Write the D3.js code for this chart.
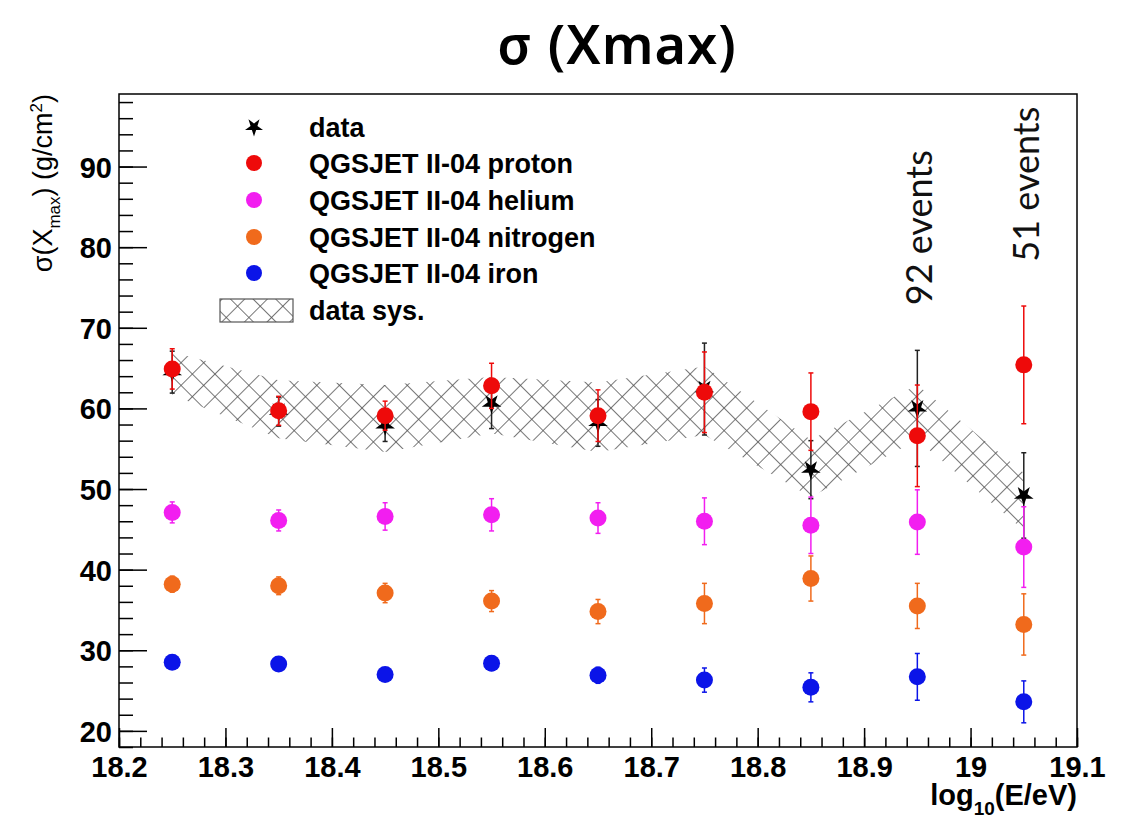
<!DOCTYPE html>
<html>
<head>
<meta charset="utf-8">
<script src="https://cdn.jsdelivr.net/npm/d3@7"></script>
<style>
  html, body { margin: 0; padding: 0; background: #fff; }
  svg { display: block; }
</style>
</head>
<body>
<div id="chart"></div>
<script>
// Energy bins, log10(E/eV)
const energy = [18.25, 18.35, 18.45, 18.55, 18.65, 18.75, 18.85, 18.95, 19.05];

// Measured sigma(Xmax) and statistical errors (g/cm^2)
const dataVal = [64.5, 59.6, 57.9, 60.6, 58.2, 62.4, 52.4, 60.0, 49.2];
const dataErr = [2.6, 1.8, 2.0, 3.1, 2.9, 5.7, 3.6, 7.2, 5.3];

// Systematic band edges around the data
const sysHigh = [67.0, 63.5, 62.9, 63.9, 63.2, 65.2, 56.1, 62.9, 52.0];
const sysLow  = [61.7, 56.3, 54.6, 56.9, 54.6, 56.7, 49.0, 56.1, 44.9];

// QGSJET II-04 simulated compositions
const protonVal   = [64.9, 59.7, 59.1, 62.8, 59.1, 62.0, 59.6, 56.6, 65.4];
const protonErr   = [2.5, 1.8, 1.8, 2.8, 3.2, 5.0, 4.8, 6.3, 7.3];
const heliumVal   = [47.1, 46.1, 46.6, 46.8, 46.4, 46.0, 45.5, 45.9, 42.8];
const heliumErr   = [1.3, 1.3, 1.7, 2.0, 1.9, 2.9, 3.5, 4.0, 5.0];
const nitrogenVal = [38.2, 38.0, 37.1, 36.1, 34.8, 35.8, 38.9, 35.5, 33.2];
const nitrogenErr = [1.0, 1.1, 1.2, 1.3, 1.5, 2.5, 2.8, 2.8, 3.8];
const ironVal     = [28.5, 28.3, 27.0, 28.4, 26.9, 26.3, 25.4, 26.7, 23.6];
const ironErr     = [0.6, 0.6, 0.6, 0.9, 1.0, 1.5, 1.8, 2.9, 2.6];

// Axis ticks
const xMajorTicks = [18.2, 18.3, 18.4, 18.5, 18.6, 18.7, 18.8, 18.9, 19.0, 19.1];
const yMajorTicks = [20, 30, 40, 50, 60, 70, 80, 90];

// Event-count annotations
const eventLabels = [
  { e: 18.95, v: 72.8, text: "92 events" },
  { e: 19.05, v: 78.2, text: "51 events" }
];

const legendLabels = ["data", "QGSJET II-04 proton", "QGSJET II-04 helium",
                      "QGSJET II-04 nitrogen", "QGSJET II-04 iron", "data sys."];

const W = 1126, H = 821;
const frame = { left: 119, right: 1077, top: 94, bottom: 747 };

const svg = d3.select("#chart").append("svg")
  .attr("width", W).attr("height", H);

const x = d3.scaleLinear().domain([18.2, 19.1]).range([frame.left, frame.right]);
const y = d3.scaleLinear().domain([18, 99]).range([frame.bottom, frame.top]);

// Cross-hatch pattern for the systematic band
const defs = svg.append("defs");
const pat = defs.append("pattern")
  .attr("id", "xhatch")
  .attr("patternUnits", "userSpaceOnUse")
  .attr("width", 16).attr("height", 16)
  .attr("patternTransform", "rotate(45)");
pat.append("line").attr("x1", 0).attr("y1", 0).attr("x2", 0).attr("y2", 16)
  .attr("stroke", "#555").attr("stroke-width", 1.6);
pat.append("line").attr("x1", 0).attr("y1", 0).attr("x2", 16).attr("y2", 0)
  .attr("stroke", "#555").attr("stroke-width", 1.6);

// Title
svg.append("text")
  .attr("x", 617).attr("y", 64)
  .attr("text-anchor", "middle")
  .attr("font-family", "'Noto Sans', sans-serif")
  .attr("font-weight", 600)
  .attr("font-size", 54)
  .attr("letter-spacing", 1)
  .text("σ (Xmax)");

// Systematic band
const band = energy.map((e, i) => ({ e, hi: sysHigh[i], lo: sysLow[i] }));
svg.append("path")
  .datum(band)
  .attr("fill", "url(#xhatch)")
  .attr("stroke", "none")
  .attr("d", d3.area().x(d => x(d.e)).y0(d => y(d.lo)).y1(d => y(d.hi)));

// Error bars + markers
const series = [
  { name: "iron", vals: ironVal, errs: ironErr, color: "#0b14e8" },
  { name: "nitrogen", vals: nitrogenVal, errs: nitrogenErr, color: "#f06a1c" },
  { name: "helium", vals: heliumVal, errs: heliumErr, color: "#f21ef0" },
  { name: "proton", vals: protonVal, errs: protonErr, color: "#ee0a0a" }
];

function drawErrors(g, vals, errs, color) {
  const pts = energy.map((e, i) => ({ e, v: vals[i], err: errs[i] }));
  g.selectAll("line.bar").data(pts).join("line")
    .attr("class", "bar")
    .attr("x1", d => x(d.e)).attr("x2", d => x(d.e))
    .attr("y1", d => y(d.v - d.err)).attr("y2", d => y(d.v + d.err))
    .attr("stroke", color).attr("stroke-width", 1.5);
  ["lo", "hi"].forEach(side => {
    g.selectAll("line.cap" + side).data(pts).join("line")
      .attr("class", "cap" + side)
      .attr("x1", d => x(d.e) - 2.5).attr("x2", d => x(d.e) + 2.5)
      .attr("y1", d => y(side === "lo" ? d.v - d.err : d.v + d.err))
      .attr("y2", d => y(side === "lo" ? d.v - d.err : d.v + d.err))
      .attr("stroke", color).attr("stroke-width", 1.5);
  });
  return pts;
}

const plot = svg.append("g");

// measured points sit underneath the simulation markers
const dataG = plot.append("g");
const dataPts = drawErrors(dataG, dataVal, dataErr, "#222");
const star = d3.symbol().type(d3.symbolStar).size(120);
dataG.selectAll("path").data(dataPts).join("path")
  .attr("transform", d => `translate(${x(d.e)},${y(d.v)}) rotate(180)`)
  .attr("d", star)
  .attr("fill", "#000");

series.forEach(s => {
  const g = plot.append("g");
  const pts = drawErrors(g, s.vals, s.errs, s.color);
  g.selectAll("circle").data(pts).join("circle")
    .attr("cx", d => x(d.e)).attr("cy", d => y(d.v))
    .attr("r", 8.5).attr("fill", s.color);
});

// Frame
svg.append("rect")
  .attr("x", frame.left).attr("y", frame.top)
  .attr("width", frame.right - frame.left).attr("height", frame.bottom - frame.top)
  .attr("fill", "none").attr("stroke", "#000").attr("stroke-width", 1.5);

// Axes
const tickFont = "'Liberation Sans', Arial, sans-serif";
const xMinor = d3.range(18.2, 19.1001, 0.02).map(v => +v.toFixed(2));
const yMinor = d3.range(18, 99, 2);

const xAxisMinor = svg.append("g")
  .attr("transform", `translate(0,${frame.bottom})`)
  .call(d3.axisBottom(x).tickValues(xMinor).tickSize(-9.5).tickFormat(""));
const xAxis = svg.append("g")
  .attr("transform", `translate(0,${frame.bottom})`)
  .call(d3.axisBottom(x).tickValues(xMajorTicks).tickSize(-19).tickPadding(9)
    .tickFormat(d => String(+d.toFixed(1))));

const yAxisMinor = svg.append("g")
  .attr("transform", `translate(${frame.left},0)`)
  .call(d3.axisLeft(y).tickValues(yMinor).tickSize(-14).tickFormat(""));
const yAxis = svg.append("g")
  .attr("transform", `translate(${frame.left},0)`)
  .call(d3.axisLeft(y).tickValues(yMajorTicks).tickSize(-28).tickPadding(7));

[xAxisMinor, xAxis, yAxisMinor, yAxis].forEach(g => {
  g.select(".domain").remove();
  g.selectAll(".tick line").attr("stroke", "#000").attr("stroke-width", 1.5);
  g.selectAll("text")
    .attr("font-family", tickFont)
    .attr("font-weight", 700)
    .attr("font-size", 29)
    .attr("fill", "#000");
});
yAxis.selectAll("text").attr("dy", "0.36em");

// Axis titles
const xTitle = svg.append("text")
  .attr("x", frame.right).attr("y", 805)
  .attr("text-anchor", "end")
  .attr("font-family", tickFont)
  .attr("font-weight", 700)
  .attr("font-size", 29);
xTitle.append("tspan").text("log");
xTitle.append("tspan").attr("font-size", 19).attr("dy", 10).text("10");
xTitle.append("tspan").attr("dy", -10).text("(E/eV)");

const yTitle = svg.append("text")
  .attr("transform", `translate(52,${frame.top}) rotate(-90)`)
  .attr("text-anchor", "end")
  .attr("font-family", tickFont)
  .attr("font-size", 27);
yTitle.append("tspan").text("σ(X");
yTitle.append("tspan").attr("font-size", 17).attr("dy", 8).text("max");
yTitle.append("tspan").attr("dy", -8).text(") (g/cm");
yTitle.append("tspan").attr("font-size", 17).attr("dy", -10).text("2");
yTitle.append("tspan").attr("dy", 10).text(")");

// Event annotations
svg.append("g").selectAll("text").data(eventLabels).join("text")
  .attr("transform", d => `translate(${x(d.e) + 15},${y(d.v)}) rotate(-90)`)
  .attr("font-family", "Lato, 'Open Sans', sans-serif")
  .attr("font-size", 36)
  .attr("fill", "#111")
  .text(d => d.text);

// Legend
const legend = svg.append("g");
const rowY = [127, 163, 200, 237, 273, 310];
const legendColors = [null, "#ee0a0a", "#f21ef0", "#f06a1c", "#0b14e8"];
legend.selectAll("text").data(legendLabels).join("text")
  .attr("x", 309)
  .attr("y", (d, i) => rowY[i] + 10)
  .attr("font-family", tickFont)
  .attr("font-weight", 700)
  .attr("font-size", 27)
  .attr("fill", "#000")
  .text(d => d);
legend.append("path")
  .attr("transform", `translate(254,${rowY[0]}) rotate(180)`)
  .attr("d", d3.symbol().type(d3.symbolStar).size(100))
  .attr("fill", "#000");
legend.selectAll("circle").data(legendColors.slice(1)).join("circle")
  .attr("cx", 254).attr("cy", (d, i) => rowY[i + 1])
  .attr("r", 8).attr("fill", d => d);
legend.append("rect")
  .attr("x", 220).attr("y", 299).attr("width", 73).attr("height", 23)
  .attr("fill", "url(#xhatch)")
  .attr("stroke", "#555").attr("stroke-width", 1.2);
</script>
</body>
</html>
